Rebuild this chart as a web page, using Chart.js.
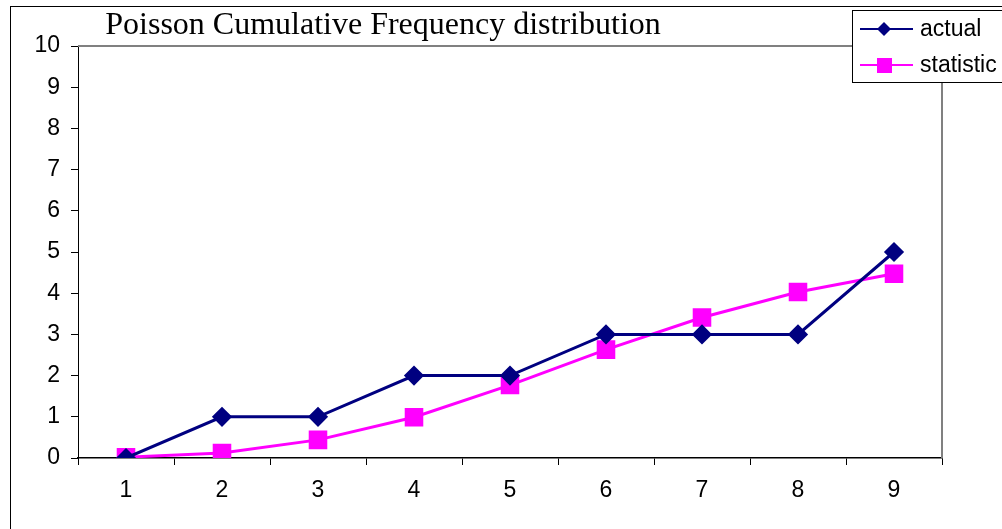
<!DOCTYPE html>
<html>
<head>
<meta charset="utf-8">
<script src="https://cdn.jsdelivr.net/npm/chart.js@4/dist/chart.umd.min.js"></script>
<style>
  html, body { margin: 0; padding: 0; background: #fff; }
  #wrap { width: 1002px; height: 529px; position: relative; }
</style>
</head>
<body>
<div id="wrap"><canvas id="chart" width="1002" height="529"></canvas></div>
<script>
// chart data
const categories = ["1", "2", "3", "4", "5", "6", "7", "8", "9"];
const actual = [0, 1, 1, 2, 2, 3, 3, 3, 5];
const statistic = [0.02, 0.12, 0.44, 0.99, 1.77, 2.63, 3.41, 4.03, 4.47];
const chartTitle = "Poisson Cumulative Frequency distribution";
const seriesNames = ["actual", "statistic"];

const navy = "#000080";
const magenta = "#FF00FF";
const sans = "'Liberation Sans', Arial, sans-serif";

// frame, title and legend drawn around the plot
const decorations = {
    id: "decorations",
    beforeDraw(chart) {
        const c = chart.ctx;
        c.save();
        c.fillStyle = "#fff";
        c.fillRect(0, 0, chart.width, chart.height);
        c.strokeStyle = "#000";
        c.lineWidth = 1;
        c.strokeRect(10.5, 6.5, 1010, 540);
        c.restore();
    },
    afterDraw(chart) {
        const c = chart.ctx;
        const a = chart.chartArea;
        c.save();
        // grey top and right edge of plot area
        c.strokeStyle = "#808080";
        c.lineWidth = 2;
        c.beginPath();
        c.moveTo(a.left, a.top);
        c.lineTo(a.right, a.top);
        c.lineTo(a.right, a.bottom);
        c.stroke();

        // title
        c.fillStyle = "#000";
        c.font = "32px 'Liberation Serif', 'Times New Roman', serif";
        c.textAlign = "center";
        c.textBaseline = "alphabetic";
        c.fillText(chartTitle, 383, 34);

        // legend
        c.fillStyle = "#fff";
        c.fillRect(852, 10, 160, 72);
        c.strokeStyle = "#000";
        c.lineWidth = 1;
        c.strokeRect(852.5, 10.5, 160, 72);
        const rows = [
            { name: seriesNames[0], color: navy, y: 29, shape: "diamond" },
            { name: seriesNames[1], color: magenta, y: 65, shape: "square" }
        ];
        c.font = "23px " + sans;
        c.textAlign = "left";
        c.textBaseline = "middle";
        rows.forEach(r => {
            c.strokeStyle = r.color;
            c.lineWidth = 2;
            c.beginPath();
            c.moveTo(860, r.y);
            c.lineTo(913, r.y);
            c.stroke();
            c.fillStyle = r.color;
            if (r.shape === "diamond") {
                c.beginPath();
                c.moveTo(884, r.y - 7);
                c.lineTo(891, r.y);
                c.lineTo(884, r.y + 7);
                c.lineTo(877, r.y);
                c.closePath();
                c.fill();
            } else {
                c.fillRect(877, r.y - 7, 15, 15);
            }
            c.fillStyle = "#000";
            c.fillText(r.name, 920, r.y + 1);
        });
        c.restore();
    }
};

const ctx = document.getElementById("chart").getContext("2d");
const chart = new Chart(ctx, {
    type: "line",
    data: {
        labels: categories,
        datasets: [
            {
                label: seriesNames[0],
                data: actual,
                borderColor: navy,
                backgroundColor: navy,
                borderWidth: 3,
                pointStyle: "rectRot",
                pointRadius: 8,
                pointHoverRadius: 8,
                tension: 0
            },
            {
                label: seriesNames[1],
                data: statistic,
                borderColor: magenta,
                backgroundColor: magenta,
                borderWidth: 3,
                pointStyle: "rect",
                pointRadius: 11,
                pointHoverRadius: 11,
                tension: 0
            }
        ]
    },
    options: {
        responsive: false,
        animation: false,
        devicePixelRatio: 1,
        layout: { padding: { left: 0, top: 46, right: 60, bottom: 0 } },
        plugins: {
            legend: { display: false },
            title: { display: false },
            tooltip: { enabled: false }
        },
        scales: {
            x: {
                type: "category",
                offset: true,
                grid: { offset: true, drawOnChartArea: false, tickLength: 7, tickColor: "#000" },
                border: { color: "#000", width: 1.5 },
                ticks: { color: "#000", padding: 12, font: { family: sans, size: 23 } },
                afterFit(scale) { scale.height = 71; }
            },
            y: {
                min: 0,
                max: 10,
                ticks: { stepSize: 1, color: "#000", padding: 11, font: { family: sans, size: 23 } },
                grid: { drawOnChartArea: false, tickLength: 7, tickColor: "#000" },
                border: { color: "#000", width: 1 },
                afterFit(scale) { scale.width = 78; }
            }
        }
    },
    plugins: [decorations]
});
</script>
</body>
</html>
